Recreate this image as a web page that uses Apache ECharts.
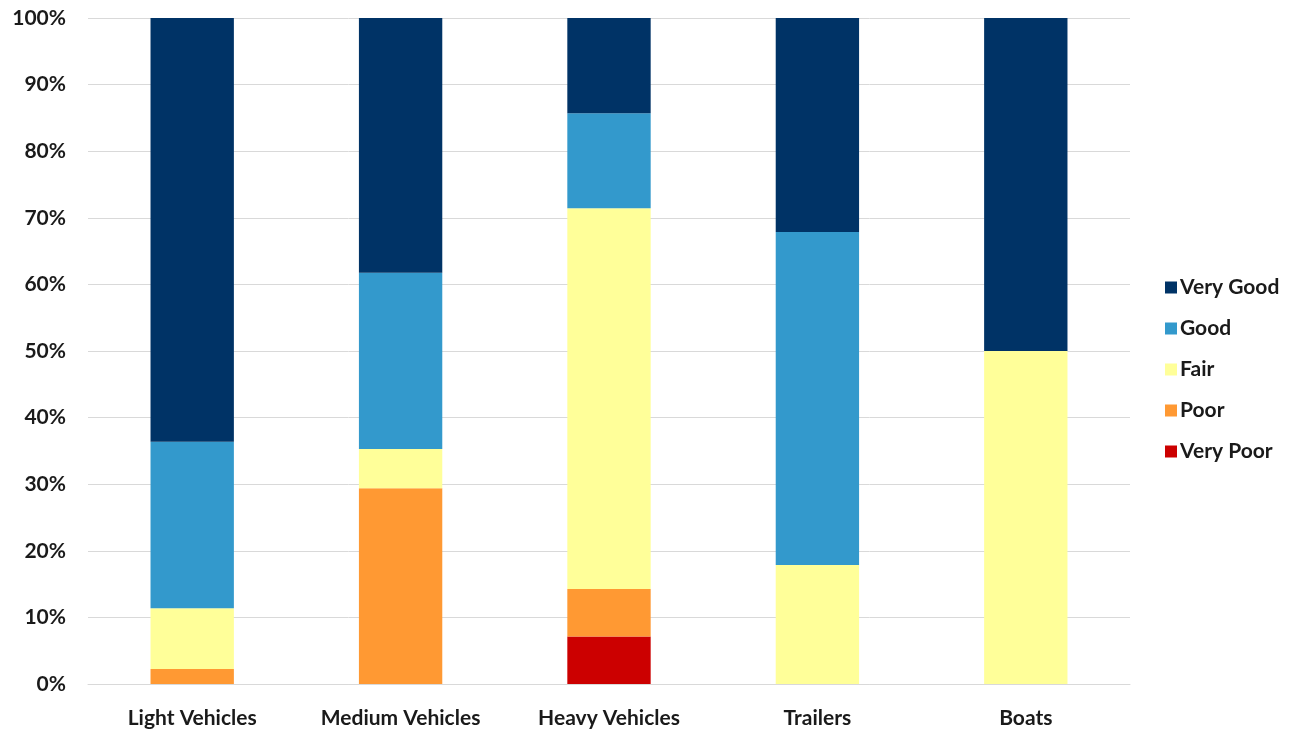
<!DOCTYPE html>
<html>
<head>
<meta charset="utf-8">
<title>Condition by Asset Class</title>
<script src="https://cdn.jsdelivr.net/npm/echarts@6/dist/echarts.min.js"></script>
<style>
  html, body { margin: 0; padding: 0; background: #ffffff; }
  #chart { width: 1303px; height: 729px; }
</style>
</head>
<body>
<div id="chart"></div>
<script>
// Asset classes along the x axis
const categories = ['Light Vehicles', 'Medium Vehicles', 'Heavy Vehicles', 'Trailers', 'Boats'];

// Share of each class in each condition rating (%)
const veryPoor = [0, 0, 7.14, 0, 0];
const poor     = [2.27, 29.41, 7.14, 0, 0];
const fair     = [9.09, 5.88, 57.14, 17.86, 50];
const good     = [25.0, 26.47, 14.29, 50.0, 0];
const veryGood = [63.64, 38.24, 14.29, 32.14, 50];

const yTicks = [0, 10, 20, 30, 40, 50, 60, 70, 80, 90, 100];

const colors = {
  'Very Good': '#003366',
  'Good': '#3399cc',
  'Fair': '#ffff99',
  'Poor': '#ff9933',
  'Very Poor': '#cc0000'
};

const font = 'Lato, "Open Sans", sans-serif';

function barSeries(name, data) {
  return {
    name: name,
    type: 'bar',
    stack: 'total',
    barWidth: '40%',
    data: data,
    itemStyle: { color: colors[name] }
  };
}

const chart = echarts.init(document.getElementById('chart'), null, { renderer: 'canvas' });
chart.setOption({
  animation: false,
  backgroundColor: '#ffffff',
  grid: { left: 88, right: 173, top: 18, bottom: 44 },
  legend: {
    orient: 'vertical',
    left: 1160,
    top: 272,
    itemWidth: 12,
    itemHeight: 12,
    itemGap: 20,
    icon: 'rect',
    data: ['Very Good', 'Good', 'Fair', 'Poor', 'Very Poor'],
    textStyle: { fontFamily: font, fontWeight: 'bold', fontSize: 21, color: '#1a1a1a', padding: [0, 0, 0, -2] }
  },
  xAxis: {
    type: 'category',
    data: categories,
    axisLine: { show: true, lineStyle: { color: '#d9d9d9', width: 1 } },
    axisTick: { show: false },
    axisLabel: { fontFamily: font, fontWeight: 'bold', fontSize: 21, color: '#1a1a1a', margin: 24 }
  },
  yAxis: {
    type: 'value',
    min: yTicks[0],
    max: yTicks[yTicks.length - 1],
    interval: yTicks[1] - yTicks[0],
    axisLine: { show: false },
    axisTick: { show: false },
    splitLine: { lineStyle: { color: '#d9d9d9', width: 1 } },
    axisLabel: {
      fontFamily: font, fontWeight: 'bold', fontSize: 21, color: '#1a1a1a', margin: 22,
      formatter: v => v + '%'
    }
  },
  series: [
    barSeries('Very Poor', veryPoor),
    barSeries('Poor', poor),
    barSeries('Fair', fair),
    barSeries('Good', good),
    barSeries('Very Good', veryGood)
  ]
});
</script>
</body>
</html>
